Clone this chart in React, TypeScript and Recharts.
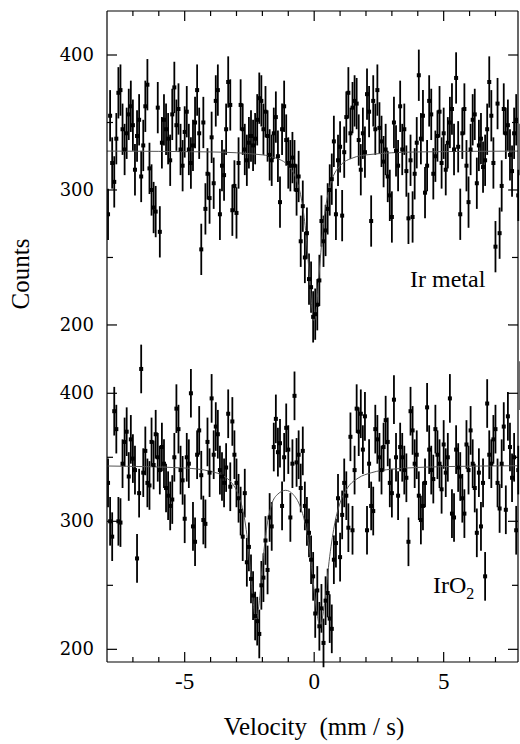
import { ComposedChart, ErrorBar, Line, Scatter, XAxis, YAxis } from "recharts";

// velocity grid of the channels (mm/s)
const V_START = -7.96;
const V_STEP = 0.08;

// counts per channel
const IR_METAL_COUNTS = [
  282, 355, 320, 306, 338, 372, 374, 345, 330, 342,
  356, 362, 348, 315, 340, 352, 310, 333, 362, 378,
  316, 300, 287, 284, 361, 269, 335, 352, 345, 338,
  322, 356, 376, 348, 360, 330, 318, 343, 358, 330,
  320, 333, 350, 374, 342, 256, 350, 286, 312, 294,
  339, 305, 366, 374, 282, 318, 311, 345, 380, 363,
  285, 303, 283, 320, 363, 345, 330, 322, 335, 340,
  333, 338, 352, 368, 366, 345, 358, 340, 326, 322,
  342, 354, 325, 291, 345, 362, 337, 320, 318, 324,
  318, 300, 310, 262, 288, 250, 268, 234, 228, 206,
  208, 215, 233, 277, 262, 270, 286, 300, 308, 336,
  282, 322, 332, 281, 328, 354, 372, 342, 361, 366,
  364, 337, 315, 342, 328, 371, 358, 277, 366, 345,
  374, 346, 336, 321, 330, 310, 296, 280, 350, 329,
  318, 362, 330, 345, 314, 279, 322, 280, 312, 335,
  385, 338, 355, 298, 318, 366, 356, 312, 325, 340,
  358, 320, 342, 315, 335, 350, 360, 330, 383, 332,
  282, 342, 360, 318, 291, 330, 352, 356, 305, 333,
  338, 317, 322, 345, 380, 355, 320, 258, 364, 268,
  303, 360, 342, 348, 326, 314, 342, 352, 296, 330,
];

const IRO2_COUNTS = [
  330, 300, 288, 386, 372, 300, 299, 345, 362, 370,
  335, 364, 349, 340, 271, 322, 419, 338, 355, 330,
  328, 362, 344, 368, 350, 340, 358, 345, 326, 320,
  312, 317, 350, 388, 372, 340, 332, 302, 350, 345,
  400, 296, 284, 352, 371, 336, 301, 298, 362, 338,
  396, 352, 374, 368, 340, 335, 330, 342, 384, 327,
  378, 352, 330, 318, 308, 288, 322, 268, 280, 255,
  242, 226, 222, 212, 250, 256, 285, 262, 303, 296,
  358, 380, 354, 361, 312, 350, 373, 356, 303, 345,
  398, 346, 352, 326, 355, 312, 300, 291, 270, 257,
  228, 246, 218, 232, 205, 238, 244, 224, 216, 270,
  283, 318, 272, 305, 330, 320, 295, 366, 293, 340,
  388, 370, 384, 356, 382, 293, 345, 312, 308, 372,
  364, 350, 340, 358, 379, 362, 330, 322, 395, 350,
  320, 358, 350, 340, 334, 284, 386, 371, 345, 352,
  320, 301, 312, 330, 389, 356, 340, 333, 372, 352,
  345, 325, 360, 338, 350, 396, 306, 303, 356, 342,
  335, 318, 306, 360, 340, 371, 345, 326, 291, 338,
  296, 330, 257, 392, 352, 345, 364, 372, 330, 310,
  345, 374, 309, 382, 358, 334, 350, 293, 340, 406,
];

// half length of the error bars (counts)
const COUNT_ERR = 19;

// fitted curves
const IR_METAL_FIT_V = [-8, -4, -2, -1.5, -1, -0.7, -0.5, -0.35, -0.2, -0.1, -0.05, 0, 0.05, 0.1, 0.2, 0.35, 0.5, 0.7, 1, 1.5, 2, 4, 7.87];
const IR_METAL_FIT = [328.8, 328.2, 326, 323.8, 318, 308.3, 294, 273.5, 240, 215, 206, 203, 206, 215, 240, 273.5, 294, 308.3, 318, 323.8, 326, 328.2, 328.8];

const IRO2_FIT_V = [-8, -5, -4, -3.5, -3.2, -3, -2.8, -2.6, -2.45, -2.35, -2.24, -2.13, -2, -1.85, -1.65, -1.4, -1.1, -0.8, -0.55, -0.35, -0.15, 0.05, 0.23, 0.4, 0.6, 0.8, 1, 1.3, 1.7, 2.2, 3, 5, 7.87];
const IRO2_FIT = [343.2, 341.6, 339, 335.4, 330.4, 324.2, 312.8, 289.6, 259, 235.8, 223, 235.4, 265, 292.7, 312.7, 321.3, 324.2, 320.7, 312, 298.2, 273.4, 237, 218, 235.8, 272.7, 299, 314.4, 326.5, 333.8, 337.9, 340.7, 342.7, 343.4];

const V_TICKS = [-7, -6, -5, -4, -3, -2, -1, 0, 1, 2, 3, 4, 5, 6, 7];
const V_LABELS = [-5, 0, 5];
const COUNT_TICKS = [200, 250, 300, 350, 400];
const COUNT_LABELS = [200, 300, 400];

const SERIF = "'Liberation Serif', 'Times New Roman', serif";
const W = 520;
const H = 744;

const toPoints = (counts: number[]) =>
  counts.map((c, i) => ({ v: V_START + i * V_STEP, counts: c, err: COUNT_ERR }));
const toFit = (vs: number[], fit: number[]) => vs.map((v, i) => ({ v, fit: fit[i] }));

function XTick(props: any) {
  const { x, y, payload, side } = props;
  const major = V_LABELS.includes(payload.value);
  const len = major ? 10 : 5;
  const dir = side === "top" ? 1 : -1;
  return (
    <g>
      <line x1={x} x2={x} y1={y} y2={y + dir * len} stroke="#000" strokeWidth={1.2} />
      {side === "bottom" && major && (
        <text x={x} y={y + 27} textAnchor="middle" fontFamily={SERIF} fontSize={23} fill="#000">
          {payload.value}
        </text>
      )}
    </g>
  );
}

function YTick(props: any) {
  const { x, y, payload, side } = props;
  const major = COUNT_LABELS.includes(payload.value);
  const len = major ? 10 : 6;
  const dir = side === "left" ? 1 : -1;
  return (
    <g>
      <line x1={x} x2={x + dir * len} y1={y} y2={y} stroke="#000" strokeWidth={1.2} />
      {side === "left" && major && (
        <text x={x - 13} y={y + 6} textAnchor="end" fontFamily="'DejaVu Serif', serif" fontSize={18} fill="#000">
          {payload.value}
        </text>
      )}
    </g>
  );
}

const dotShape = (p: any) => <rect x={p.cx - 2} y={p.cy - 2} width={4} height={4} fill="#000" />;

function Panel({
  counts,
  fitV,
  fit,
  yDomain,
  margin,
  xSide,
}: {
  counts: number[];
  fitV: number[];
  fit: number[];
  yDomain: [number, number];
  margin: { top: number; right: number; bottom: number; left: number };
  xSide: "top" | "bottom";
}) {
  return (
    <div style={{ position: "absolute", left: 0, top: 0 }}>
      <ComposedChart width={W} height={H} margin={margin}>
        <XAxis
          dataKey="v"
          type="number"
          domain={[-8, 7.87]}
          allowDataOverflow
          orientation={xSide}
          ticks={V_TICKS}
          interval={0}
          height={xSide === "top" ? 1 : 30}
          tickSize={0}
          tickMargin={0}
          tickLine={false}
          axisLine={{ stroke: "#000", strokeWidth: 1.2 }}
          tick={(p: any) => <XTick {...p} side={xSide} />}
        />
        <YAxis
          yAxisId="l"
          type="number"
          domain={yDomain}
          allowDataOverflow
          ticks={COUNT_TICKS}
          interval={0}
          width={60}
          tickSize={0}
          tickMargin={0}
          tickLine={false}
          axisLine={{ stroke: "#000", strokeWidth: 1.2 }}
          tick={(p: any) => <YTick {...p} side="left" />}
        />
        <YAxis
          yAxisId="r"
          orientation="right"
          type="number"
          domain={yDomain}
          allowDataOverflow
          ticks={COUNT_TICKS}
          interval={0}
          width={1}
          tickSize={0}
          tickMargin={0}
          tickLine={false}
          axisLine={{ stroke: "#000", strokeWidth: 1.2 }}
          tick={(p: any) => <YTick {...p} side="right" />}
        />
        <Scatter
          yAxisId="l"
          data={toPoints(counts)}
          dataKey="counts"
          shape={dotShape}
          isAnimationActive={false}
        >
          <ErrorBar dataKey="err" direction="y" width={0} stroke="#000" strokeWidth={1.8} isAnimationActive={false} />
        </Scatter>
        <Line
          yAxisId="l"
          data={toFit(fitV, fit)}
          dataKey="fit"
          type="monotone"
          dot={false}
          stroke="#555"
          strokeWidth={1}
          isAnimationActive={false}
        />
      </ComposedChart>
    </div>
  );
}

export default function App() {
  return (
    <div style={{ position: "absolute", left: 0, top: 0, width: W, height: H, background: "#fff" }}>
      <Panel
        counts={IR_METAL_COUNTS}
        fitV={IR_METAL_FIT_V}
        fit={IR_METAL_FIT}
        yDomain={[189.6, 432.6]}
        margin={{ top: 10, right: 1, bottom: H - 339, left: 47 }}
        xSide="top"
      />
      <Panel
        counts={IRO2_COUNTS}
        fitV={IRO2_FIT_V}
        fit={IRO2_FIT}
        yDomain={[190.1, 442.4]}
        margin={{ top: 339, right: 1, bottom: H - 662 - 30, left: 47 }}
        xSide="bottom"
      />
      <svg width={W} height={H} style={{ position: "absolute", left: 0, top: 0, pointerEvents: "none" }}>
        <text
          transform="translate(29 274) rotate(-90)"
          textAnchor="middle"
          fontFamily={SERIF}
          fontSize={25}
          fill="#000"
        >
          Counts
        </text>
        <text x={314} y={735} textAnchor="middle" fontFamily={SERIF} fontSize={25} fill="#000" style={{ whiteSpace: "pre" }}>
          {"Velocity  (mm / s)"}
        </text>
        <text x={410} y={287} fontFamily={SERIF} fontSize={24} fill="#000">
          Ir metal
        </text>
        <text x={433} y={593} fontFamily={SERIF} fontSize={24} fill="#000">
          IrO
          <tspan fontSize={16} dy={6}>
            2
          </tspan>
        </text>
      </svg>
    </div>
  );
}
